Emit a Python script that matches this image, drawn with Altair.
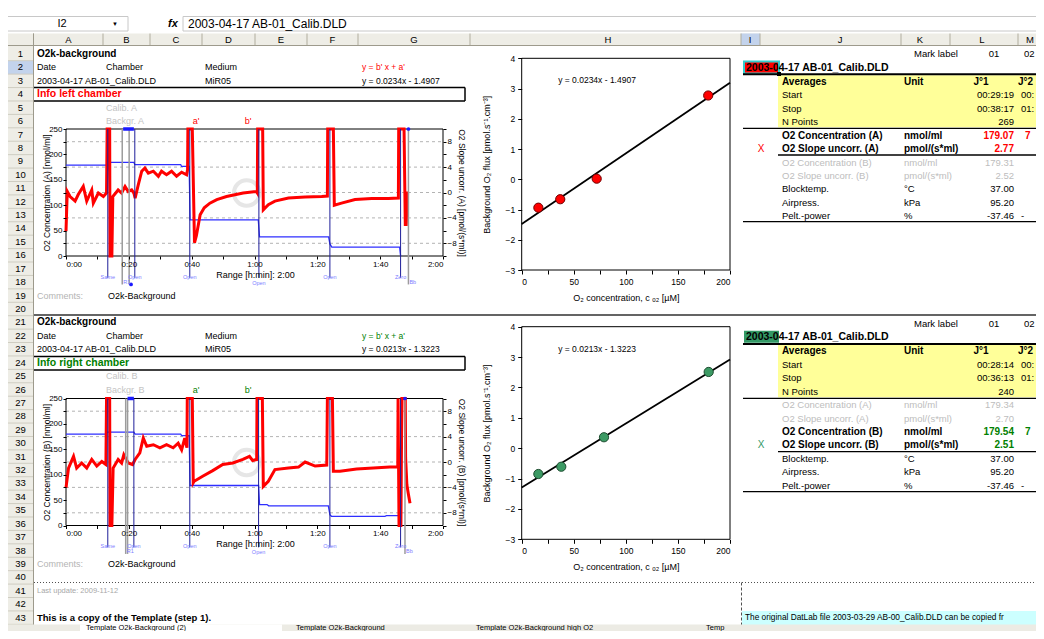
import altair as alt
import pandas as pd

# ============================ DATA ============================
FILE_NAME = "2003-04-17 AB-01_Calib.DLD"
CELL_REF = "I2"
COLUMN_LETTERS = ["A", "B", "C", "D", "E", "F", "G", "H", "I", "J", "K", "L", "M"]
ROW_NUMBERS = list(range(1, 44))

SHEET_TITLE = "O2k-background"
HEADER_LABELS = ["Date", "Chamber", "Medium"]
MEDIUM = "MiR05"
EQ_GENERIC = "y = b' x + a'"
EQUATIONS = ["y = 0.0234x - 1.4907", "y = 0.0213x - 1.3223"]
INFO = ["Info left chamber", "Info right chamber"]
CALIB_LABELS = [["Calib. A", "Backgr. A"], ["Calib. B", "Backgr. B"]]
MARK_NAMES = ["a'", "b'"]
COMMENTS = ["Comments:", "O2k-Background"]

TS_XTITLE = "Range [h:min]: 2:00"
TS_YTITLES = ["O2 Concentration (A) [nmol/ml]", "O2 Concentration (B) [nmol/ml]"]
TS_RTITLES = ["O2 Slope uncorr. (A) [pmol/(s*ml)]", "O2 Slope uncorr. (B) [pmol/(s*ml)]"]

# O2 concentration traces (time [min], nmol/ml)
O2_A = [(0, 49), (0.4, 127), (1.3, 117), (2.9, 108), (3.9, 121), (5.5, 137), (6.6, 108),
        (8.2, 130), (8.7, 104), (10.3, 124), (11.9, 117), (12.9, 124), (13.1, 250), (13.9, 250),
        (14.0, 0), (14.6, 0), (14.9, 117), (16.6, 130), (17.7, 124), (18.8, 137), (19.8, 127),
        (20.9, 130), (21.6, 124), (22.0, 114), (23.0, 140), (24.1, 167), (25.1, 173), (26.2, 163),
        (27.8, 167), (29.4, 157), (30.4, 167), (32.0, 160), (33.6, 167), (35.2, 157), (36.8, 165),
        (38.4, 160), (38.7, 170), (38.8, 250), (40.2, 250), (40.9, 26), (41.5, 40), (42.7, 81),
        (44.0, 95), (45.8, 104), (48.0, 111), (51.1, 117), (56.4, 124), (60.6, 127), (60.9, 124),
        (61.0, 250), (62.6, 250), (62.8, 91), (64.4, 101), (66.5, 108), (70.8, 114), (76.1, 116),
        (81.4, 117), (83.2, 118), (83.3, 250), (85.1, 250), (85.4, 100), (87.7, 104), (92.0, 111),
        (97.3, 113), (102.6, 113), (105.8, 114), (105.9, 250), (107.6, 250), (108.0, 62),
        (108.3, 62), (108.6, 124), (109.2, 124)]
O2_B = [(0, 74), (0.8, 113), (2.4, 136), (3.4, 113), (5.0, 123), (6.6, 113), (8.2, 130),
        (9.8, 117), (11.4, 126), (12.7, 120), (12.9, 250), (13.9, 250), (14.0, 0), (14.6, 0),
        (15.0, 113), (16.6, 130), (17.7, 123), (18.4, 139), (19.8, 123), (21.2, 120), (22.0, 130),
        (23.5, 143), (24.6, 172), (25.7, 156), (27.8, 159), (29.9, 153), (32.0, 159), (34.1, 153),
        (35.7, 162), (36.8, 149), (37.8, 172), (38.5, 153), (38.6, 250), (40.2, 250), (40.5, 84),
        (40.8, 87), (43.5, 97), (46.7, 108), (49.9, 120), (53.1, 123), (56.3, 130), (58.4, 136),
        (59.4, 128), (60.7, 130), (60.8, 250), (62.5, 250), (62.8, 77), (64.4, 87), (66.5, 110),
        (70.8, 113), (74.0, 115), (76.1, 125), (79.3, 117), (83.0, 119), (83.2, 250), (84.8, 250),
        (85.1, 107), (87.2, 107), (92.5, 111), (97.8, 113), (103.1, 115), (105.6, 115),
        (105.7, 250), (106.0, 0), (106.6, 0), (106.9, 250), (108.0, 250), (108.1, 133),
        (108.5, 80), (109.0, 61), (109.5, 44)]
# O2 slope traces (time [min], pmol/(s*ml))
SLOPE_A = [(0, 4.3), (13.0, 4.3), (13.3, 4.75), (21.6, 4.75), (21.9, 4.4), (36.5, 4.4),
           (36.8, 4.1), (39.2, 4.1), (39.5, -4.3), (61.2, -4.3), (61.6, -7.0), (83.6, -7.0),
           (84.0, -8.1), (84.6, -8.6), (106.2, -8.6), (106.5, -10)]
SLOPE_B = [(0, 4.4), (12.7, 4.4), (13.0, 4.7), (21.6, 4.7), (22.0, 4.4), (36.5, 4.4),
           (36.8, 4.15), (39.2, 4.15), (39.5, -3.7), (61.3, -3.7), (61.6, -6.7), (64.0, -6.7),
           (64.5, -6.9), (83.5, -6.9), (84.0, -8.3), (84.5, -8.55), (101.5, -8.55),
           (102.0, -8.45), (106.2, -8.45), (106.5, -10)]
EVENT_LABELS = ["Same", "Open", "Open", "Open", "Open", "Zero"]
EVENT_T_A = [13.3, 21.9, 39.4, 61.4, 84.0, 106.5]
EVENT_T_B = [13.3, 21.6, 39.4, 61.3, 84.0, 106.5]
MARK_LINE_T_A = [17.9, 20.1, 109.0]
MARK_LINE_T_B = [19.0, 19.6, 107.9]
MARK_LINE_LABELS = ["R1", "", "Bb"]
MARK_BAR_A = [18.2, 21.6]
MARK_BAR_B = [19.6, 21.6]

# background regressions
SC_X_A = [16, 37, 72, 179.07]
SC_Y_A = [-0.94, -0.66, 0.02, 2.77]
SC_X_B = [16, 38, 79, 179.54]
SC_Y_B = [-0.85, -0.61, 0.36, 2.51]
SC_XTITLE = "O₂ concentration, c ₒ₂ [µM]"
SC_YTITLE = "Background O₂ flux [pmol.s⁻¹.cm⁻³]"

# right-hand tables
MARK_LABEL_ROW = ["Mark label", "01", "02"]
TABLE_LABELS = ["Averages", "Start", "Stop", "N Points", "O2 Concentration (A)",
                "O2 Slope uncorr. (A)", "O2 Concentration (B)", "O2 Slope uncorr. (B)",
                "Blocktemp.", "Airpress.", "Pelt.-power"]
TABLE_UNITS = ["Unit", "", "", "", "nmol/ml", "pmol/(s*ml)", "nmol/ml", "pmol/(s*ml)",
               "°C", "kPa", "%"]
TABLE_A_J1 = ["J°1", "00:29:19", "00:38:17", "269", "179.07", "2.77", "179.31", "2.52",
              "37.00", "95.20", "-37.46"]
TABLE_A_J2 = ["J°2", "00:", "01:", "", "7", "", "", "", "", "", "-"]
TABLE_B_J1 = ["J°1", "00:28:14", "00:36:13", "240", "179.34", "2.70", "179.54", "2.51",
              "37.00", "95.20", "-37.46"]
TABLE_B_J2 = ["J°2", "00:", "01:", "", "", "", "7", "", "", "", "-"]
SELECT_MARK = "X"

LAST_UPDATE = "Last update: 2009-11-12"
NOTE = "This is a copy of the Template (step 1)."
NOTE_RIGHT = "The original DatLab file 2003-03-29 AB-00_Calib.DLD can be copied fr"
TABS = ["Template O2k-Background (2)", "Template O2k-Background",
        "Template O2k-Background high O2", "Temp"]

# ============================ LAYOUT ============================
FONT = "Liberation Sans"
W, H = 1028, 623
OFF = 8          # page margin: chart pixel = page pixel - 8


def PX(x):
    return x - OFF


def PY(y):
    return y - OFF


def ROW(n, d=0.0):
    return 54.0 + (n - 1) * 13.42 + d


RED = "#ff0000"
GREEN = "#008000"
GREEN_CELL = "#339966"
HDR = "#eeede6"

TEXTS = []


def T(x, y, s, size=9, color="black", weight="normal", align="left", italic=False):
    if s == "":
        return
    TEXTS.append(dict(x=PX(x), y=PY(y), t=s, size=size, color=color, weight=weight,
                      align=align, style="italic" if italic else "normal"))


def rects(items, **kw):
    df = pd.DataFrame([dict(x=PX(a), x2=PX(b), y=PY(c), y2=PY(d)) for a, b, c, d in items])
    return alt.Chart(df).mark_rect(**kw).encode(
        x=alt.X("x:Q", scale=None, axis=None), x2="x2:Q",
        y=alt.Y("y:Q", scale=None, axis=None), y2="y2:Q")


def lines(items, **kw):
    df = pd.DataFrame([dict(x=PX(a), x2=PX(b), y=PY(c), y2=PY(d)) for a, b, c, d in items])
    return alt.Chart(df).mark_rule(**kw).encode(
        x=alt.X("x:Q", scale=None, axis=None), x2="x2:Q",
        y=alt.Y("y:Q", scale=None, axis=None), y2="y2:Q")


layers = []

# ---------- sheet chrome ----------
layers.append(rects([(0, 1044, 33.5, 45.5), (0, 33.5, 45.5, 625)], fill=HDR))
layers.append(rects([(0, 33.5, ROW(2) - 6.7, ROW(2) + 6.7), (741, 760, 33.5, 45.5)], fill="#c3d3ec"))
layers.append(rects([(0, 128, 16.5, 31), (183, 1044, 16.5, 31)], fill="white", stroke="#c8c8c8", strokeWidth=1))
col_bounds = [33.5, 103, 150, 202, 255, 307, 358, 470, 741, 760, 901, 950, 1018]
layers.append(lines([(b, b, 33.5, 45.5) for b in col_bounds], color="#b0ad9e", strokeWidth=1))
layers.append(lines([(0, 33.5, ROW(n) + 6.71, ROW(n) + 6.71) for n in ROW_NUMBERS], color="#cfcdc2", strokeWidth=1))
layers.append(lines([(0, 1044, 45.5, 45.5), (33.5, 33.5, 33.5, 625)], color="#9d9a8c", strokeWidth=1))

T(62, 23.5, CELL_REF, 11, align="center")
T(115, 23.5, "▼", 6, align="center")
T(173, 23.5, "fx", 11, weight="bold", italic=True, align="center")
T(188, 23.5, FILE_NAME, 12)
col_centers = [68.5, 126.5, 176, 228.5, 281, 332.5, 414, 608, 750, 840, 920, 982, 1030]
for c, xc in zip(COLUMN_LETTERS, col_centers):
    T(xc, 39.5, c, 9.5, align="center")
for n in ROW_NUMBERS:
    T(20.5, ROW(n), str(n), 9.5, align="center")

# ---------- left info blocks ----------
for k, base in enumerate([1, 21]):
    col = RED if k == 0 else GREEN
    T(37, ROW(base), SHEET_TITLE, 10, weight="bold")
    T(37, ROW(base + 1), HEADER_LABELS[0])
    T(106, ROW(base + 1), HEADER_LABELS[1])
    T(205, ROW(base + 1), HEADER_LABELS[2])
    T(362, ROW(base + 1), EQ_GENERIC, 8.5, color=col)
    T(37, ROW(base + 2), FILE_NAME)
    T(205, ROW(base + 2), MEDIUM)
    T(362, ROW(base + 2), EQUATIONS[k], 8.5)
    T(37, ROW(base + 3), INFO[k], 10.5, color=col, weight="bold")
    T(106, ROW(base + 4), CALIB_LABELS[k][0], color="#c4c4c4")
    T(106, ROW(base + 5), CALIB_LABELS[k][1], color="#c4c4c4")
    T(196, ROW(base + 5), MARK_NAMES[0], color=col, align="center")
    T(248, ROW(base + 5), MARK_NAMES[1], color=col, align="center")
    T(37, ROW(base + 18), COMMENTS[0], color="#b4b4b4")
    T(108, ROW(base + 18), COMMENTS[1])

layers.append(lines([(34, 465, 87.5, 87.5), (34, 465, 101, 101), (465, 465, 87.5, 101),
                     (34, 465, 356.5, 356.5), (34, 465, 370, 370), (465, 465, 356.5, 370)],
                    color="black", strokeWidth=1.5))
layers.append(lines([(34, 1044, 315, 315)], color="#303030", strokeWidth=1.5))

# ---------- right tables ----------
tbl_cfg = [
    dict(base=1, d=1.2, cell=RED, accent=RED, J1=TABLE_A_J1, J2=TABLE_A_J2, bold=(4, 5), grey=(6, 7),
         yel=(75.3, 127.3), cell_y=(61.5, 73.5), hl=[(743, 1044, 74.3, 74.3)],
         thin=[(743, 1044, 128.3, 128.3), (778, 1044, 155, 155), (743, 1044, 221.7, 221.7)]),
    dict(base=21, d=2.2, cell=GREEN_CELL, accent=GREEN, J1=TABLE_B_J1, J2=TABLE_B_J2, bold=(6, 7), grey=(4, 5),
         yel=(345, 397.3), cell_y=(330.7, 342.7), hl=[(743, 1044, 344, 344)],
         thin=[(743, 1044, 398.3, 398.3), (778, 1044, 451.7, 451.7), (743, 1044, 491.7, 491.7)]),
]
for cfg in tbl_cfg:
    layers.append(rects([(778, 1044, cfg["yel"][0], cfg["yel"][1])], fill="#ffff99"))
    if cfg["base"] == 1:
        layers.append(rects([(744, 779, cfg["cell_y"][0], cfg["cell_y"][1])], fill=cfg["cell"],
                            stroke="#33cccc", strokeWidth=2))
        layers.append(rects([(777, 781, 72, 76)], fill="black"))
    else:
        layers.append(rects([(744, 779, cfg["cell_y"][0], cfg["cell_y"][1])], fill=cfg["cell"]))
    layers.append(lines(cfg["hl"], color="black", strokeWidth=2))
    layers.append(lines(cfg["thin"], color="black", strokeWidth=1.3))
    b = cfg["base"]
    T(914, ROW(b, cfg["d"] - 1), MARK_LABEL_ROW[0], 9.5)
    T(994, ROW(b, cfg["d"] - 1), MARK_LABEL_ROW[1], 9.5, align="center")
    T(1024, ROW(b, cfg["d"] - 1), MARK_LABEL_ROW[2], 9.5)
    T(746, ROW(b + 1, cfg["d"] - 0.6), FILE_NAME, 10.5, weight="bold")
    for i, lab in enumerate(TABLE_LABELS):
        y = ROW(b + 2 + i, cfg["d"])
        if i == 0:
            T(782, y, lab, 10, weight="bold")
            T(904, y, TABLE_UNITS[i], 10, weight="bold")
            T(981, y, cfg["J1"][i], 10, weight="bold", align="center")
            T(1018, y, cfg["J2"][i], 10, weight="bold")
        elif i in cfg["bold"]:
            T(782, y, lab, 10, weight="bold")
            T(904, y, TABLE_UNITS[i], 10, weight="bold")
            T(1014, y, cfg["J1"][i], 10, weight="bold", color=cfg["accent"], align="right")
            T(1025, y, cfg["J2"][i], 10, weight="bold", color=cfg["accent"])
            if i == cfg["bold"][1]:
                T(761, y, SELECT_MARK, 10, color=cfg["accent"] if b == 1 else GREEN_CELL, align="center")
        elif i in cfg["grey"]:
            T(782, y, lab, 9.5, color="#bdbdbd")
            T(904, y, TABLE_UNITS[i], 9.5, color="#bdbdbd")
            T(1014, y, cfg["J1"][i], 9.5, color="#bdbdbd", align="right")
        else:
            T(782, y, lab, 9.5)
            T(904, y, TABLE_UNITS[i], 9.5)
            T(1014, y, cfg["J1"][i], 9.5, align="right")
            T(1021, y, cfg["J2"][i], 9.5)

# ---------- footer ----------
layers.append(rects([(742, 1044, 611, 625)], fill="#ccffff"))
layers.append(lines([(34, 1044, 582.5, 582.5)], color="#505050", strokeWidth=1, strokeDash=[1, 2]))
layers.append(lines([(741.5, 741.5, 582.5, 625)], color="#505050", strokeWidth=1, strokeDash=[3, 2]))
layers.append(rects([(0, 1044, 624.5, 639)], fill="#ecebe4"))
layers.append(rects([(80, 282, 624.5, 639)], fill="white"))
T(37, ROW(41), LAST_UPDATE, 7.5, color="#a8a8a8")
T(37, ROW(43), NOTE, 9.5, weight="bold")
T(745, ROW(43), NOTE_RIGHT, 8.3)
T(86, 627.8, TABS[0], 7.5)
T(296, 627.8, TABS[1], 7.5)
T(476, 627.8, TABS[2], 7.5)
T(706, 627.8, TABS[3], 7.5)

# ---------- time-series panels ----------
TIME_EXPR = ("datum.value % 20 == 0 ? floor(datum.value / 60) + ':' + "
             "(datum.value % 60 < 10 ? '0' : '') + (datum.value % 60) : ''")
EVENT_LABEL_LEVEL = [-41, -41, -41, -53, -41, -41]


def ts_panel(o2, slope, ev_t, mk_t, bar, top, bot, ytitle, rtitle, blue_dot_bottom):
    xs = alt.Scale(domain=[0, 120], range=[PX(66), PX(443)], nice=False, zero=False)
    ys = alt.Scale(domain=[0, 250], range=[PY(bot), PY(top)], nice=False, zero=False)
    rs = alt.Scale(domain=[-10, 10], range=[PY(bot), PY(top)], nice=False, zero=False)
    common = dict(domain=False, grid=False, tickColor="black", labelFont=FONT, labelColor="black",
                  titleFont=FONT, titleColor="black", titleFontWeight="normal", zindex=1)
    xax = alt.Axis(orient="bottom", offset=PY(bot) - H, values=list(range(0, 121, 10)),
                   labelExpr=TIME_EXPR, tickSize=3, labelFontSize=8, labelPadding=1,
                   title=TS_XTITLE, titleFontSize=9, titleX=PX(255), titleY=18,
                   titleBaseline="middle", **common)
    yax = alt.Axis(orient="left", offset=-PX(66), values=list(range(0, 251, 25)),
                   labelExpr="datum.value % 50 == 0 ? datum.label : ''", tickSize=3,
                   labelFontSize=8, labelPadding=1, title=ytitle, titleFontSize=8.5,
                   titleX=-20, titleBaseline="middle", **common)
    rax = alt.Axis(orient="right", offset=PX(443) - W, values=list(range(-10, 11, 2)),
                   labelExpr="datum.value % 4 == 0 ? datum.label : ''", tickSize=3,
                   labelFontSize=8, labelPadding=1, title=rtitle, titleFontSize=8.5,
                   titleX=18, titleBaseline="middle", **common)
    X = lambda f, ax=None: alt.X(f, scale=xs, axis=ax)
    out = []
    out.append(alt.Chart(pd.DataFrame({"t0": [0], "t1": [120], "c0": [0], "c1": [250]}))
               .mark_rect(fill="white", stroke="black", strokeWidth=1)
               .encode(x=X("t0:Q", xax), x2="t1:Q", y=alt.Y("c0:Q", scale=ys, axis=yax), y2="c1:Q"))
    out.append(alt.Chart(pd.DataFrame({"g": [25, 75, 125, 175, 225], "t0": 0, "t1": 120}))
               .mark_rule(color="#a0a0a0", strokeDash=[3, 3], strokeWidth=0.8)
               .encode(x=X("t0:Q"), x2="t1:Q", y=alt.Y("g:Q", scale=ys, axis=None)))
    out.append(alt.Chart(pd.DataFrame({"a": [0]}))
               .mark_point(shape="circle", size=650, strokeWidth=4, color="#dcdcdc", filled=False)
               .encode(x=alt.value(PX(246.7)), y=alt.value(PY(top + 64))))
    out.append(alt.Chart(pd.DataFrame(slope, columns=["t", "s"]))
               .mark_line(color="#2f2fff", strokeWidth=1.3)
               .encode(x=X("t:Q"), y=alt.Y("s:Q", scale=rs, axis=rax)))
    out.append(alt.Chart(pd.DataFrame(o2, columns=["t", "c"]))
               .mark_line(color=RED, strokeWidth=3)
               .encode(x=X("t:Q"), y=alt.Y("c:Q", scale=ys, axis=None)))
    out.append(alt.Chart(pd.DataFrame({"t": mk_t, "lo": -56, "hi": 250}))
               .mark_rule(color="#9c9c9c", strokeWidth=1.5)
               .encode(x=X("t:Q"), y=alt.Y("lo:Q", scale=ys, axis=None), y2="hi:Q"))
    out.append(alt.Chart(pd.DataFrame({"t": ev_t, "lo": -43, "hi": 250}))
               .mark_rule(color="#1e1e9a", strokeWidth=1)
               .encode(x=X("t:Q"), y=alt.Y("lo:Q", scale=ys, axis=None), y2="hi:Q"))
    out.append(alt.Chart(pd.DataFrame({"t0": [bar[0]], "t1": [bar[1]], "c": [250]}))
               .mark_rule(color="#1a1aff", strokeWidth=3.5)
               .encode(x=X("t0:Q"), x2="t1:Q", y=alt.Y("c:Q", scale=ys, axis=None)))
    dots = [(mk_t[2], 250)] + ([(blue_dot_bottom, -56)] if blue_dot_bottom else [])
    out.append(alt.Chart(pd.DataFrame(dots, columns=["t", "c"]))
               .mark_point(shape="circle", size=14, filled=True, color="#1a1aff", opacity=1)
               .encode(x=X("t:Q"), y=alt.Y("c:Q", scale=ys, axis=None)))
    out.append(alt.Chart(pd.DataFrame({"t": ev_t, "c": EVENT_LABEL_LEVEL, "s": EVENT_LABELS}))
               .mark_text(font=FONT, fontSize=5.5, color="#7c7cff", align="center", baseline="middle")
               .encode(x=X("t:Q"), y=alt.Y("c:Q", scale=ys, axis=None), text="s:N"))
    ml = pd.DataFrame({"t": mk_t, "c": -51, "s": MARK_LINE_LABELS})
    ml = ml[ml["s"] != ""]
    out.append(alt.Chart(ml)
               .mark_text(font=FONT, fontSize=5.5, color="#7c7cff", align="left", baseline="middle", dx=1)
               .encode(x=X("t:Q"), y=alt.Y("c:Q", scale=ys, axis=None), text="s:N"))
    return out


layers += ts_panel(O2_A, SLOPE_A, EVENT_T_A, MARK_LINE_T_A, MARK_BAR_A, 129, 256,
                   TS_YTITLES[0], TS_RTITLES[0], 20.7)
layers += ts_panel(O2_B, SLOPE_B, EVENT_T_B, MARK_LINE_T_B, MARK_BAR_B, 398.5, 525.5,
                   TS_YTITLES[1], TS_RTITLES[1], None)


# ---------- regression panels ----------
def scatter_panel(xv, yv, fill, stroke, top, bot, eq):
    xs = alt.Scale(domain=[0, 200], range=[PX(521.7), PX(730)], nice=False, zero=False)
    ys = alt.Scale(domain=[-3, 4], range=[PY(bot), PY(top)], nice=False, zero=False)
    common = dict(domain=False, grid=False, tickColor="black", labelFont=FONT, labelColor="black",
                  titleFont=FONT, titleColor="black", titleFontWeight="normal", zindex=1)
    xax = alt.Axis(orient="bottom", offset=PY(bot) - H, values=list(range(0, 201, 25)),
                   labelExpr="datum.value % 50 == 0 ? datum.label : ''", tickSize=4,
                   labelFontSize=8.5, labelPadding=3, title=SC_XTITLE, titleFontSize=9,
                   titleY=27, titleBaseline="middle", **common)
    yax = alt.Axis(orient="left", offset=-PX(521.7), values=list(range(-3, 5)), tickSize=4,
                   labelFontSize=8.5, labelPadding=3, title=SC_YTITLE, titleFontSize=9,
                   titleX=-35, titleBaseline="middle", **common)
    pts = pd.DataFrame({"x": xv, "y": yv})
    out = []
    out.append(alt.Chart(pd.DataFrame({"x0": [0], "x1": [200], "y0": [-3], "y1": [4]}))
               .mark_rect(fill="white", stroke="black", strokeWidth=1)
               .encode(x=alt.X("x0:Q", scale=xs, axis=xax), x2="x1:Q",
                       y=alt.Y("y0:Q", scale=ys, axis=yax), y2="y1:Q"))
    out.append(alt.Chart(pts).transform_regression("x", "y", extent=[0, 200])
               .mark_line(color="black", strokeWidth=1.8)
               .encode(x=alt.X("x:Q", scale=xs, axis=None), y=alt.Y("y:Q", scale=ys, axis=None)))
    out.append(alt.Chart(pts).mark_circle(size=85, color=fill, opacity=1, stroke=stroke, strokeWidth=1)
               .encode(x=alt.X("x:Q", scale=xs, axis=None), y=alt.Y("y:Q", scale=ys, axis=None)))
    out.append(alt.Chart(pd.DataFrame({"x": [35], "y": [3.27], "t": [eq]}))
               .mark_text(font=FONT, fontSize=8.5, align="left", baseline="middle", color="black")
               .encode(x=alt.X("x:Q", scale=xs, axis=None), y=alt.Y("y:Q", scale=ys, axis=None), text="t:N"))
    return out


layers += scatter_panel(SC_X_A, SC_Y_A, RED, "#700000", 58.3, 270, EQUATIONS[0])
layers += scatter_panel(SC_X_B, SC_Y_B, "#3c9a64", "#1d4d30", 326.7, 539.3, EQUATIONS[1])

# ---------- sheet texts (on top) ----------
tdf = pd.DataFrame(TEXTS)
for (w, a, st), g in tdf.groupby(["weight", "align", "style"]):
    layers.append(alt.Chart(g.reset_index(drop=True))
                  .mark_text(font=FONT, fontWeight=w, align=a, fontStyle=st, baseline="middle")
                  .encode(x=alt.X("x:Q", scale=None, axis=None), y=alt.Y("y:Q", scale=None, axis=None),
                          text="t:N", size=alt.Size("size:Q", scale=None, legend=None),
                          color=alt.Color("color:N", scale=None, legend=None)))

chart = (alt.layer(*layers)
         .resolve_scale(x="independent", y="independent")
         .resolve_axis(x="independent", y="independent")
         .properties(width=W, height=H, padding=0, autosize=alt.AutoSizeParams(type="none"))
         .configure_view(strokeWidth=0))

chart.save("out.html", embed_options={"renderer": "svg", "actions": False})
